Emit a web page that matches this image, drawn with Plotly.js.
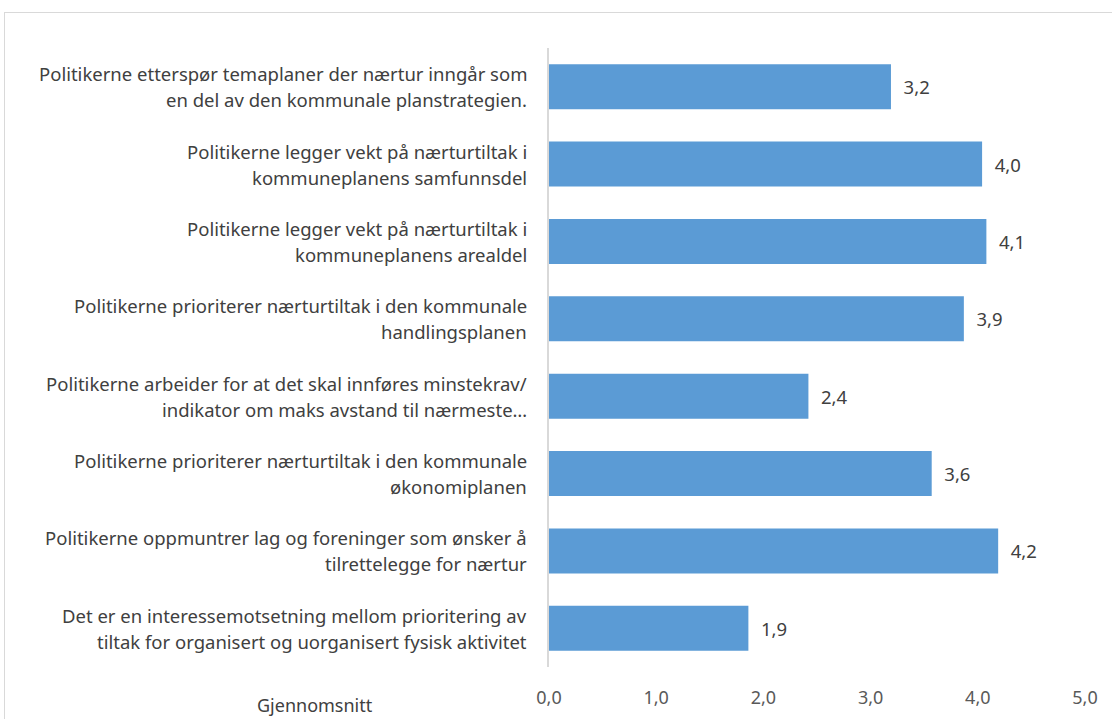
<!DOCTYPE html>
<html>
<head>
<meta charset="utf-8">
<script src="https://cdn.plot.ly/plotly-3.0.1.min.js"></script>
<style>
html,body{margin:0;padding:0;overflow:hidden;background:#fff;}
#chart{width:1112px;height:719px;}
#frame{position:absolute;left:4px;top:12px;width:1200px;height:800px;border:1px solid #d9d9d9;pointer-events:none;}
</style>
</head>
<body>
<div id="chart"></div>
<div id="frame"></div>
<script>
const categoryLine1 = [
  "Politikerne etterspør temaplaner der nærtur inngår som",
  "Politikerne legger vekt på nærturtiltak i",
  "Politikerne legger vekt på nærturtiltak i",
  "Politikerne prioriterer nærturtiltak i den kommunale",
  "Politikerne arbeider for at det skal innføres minstekrav/",
  "Politikerne prioriterer nærturtiltak i den kommunale",
  "Politikerne oppmuntrer lag og foreninger som ønsker å",
  "Det er en interessemotsetning mellom prioritering av"
];
const categoryLine2 = [
  "en del av den kommunale planstrategien.",
  "kommuneplanens samfunnsdel",
  "kommuneplanens arealdel",
  "handlingsplanen",
  "indikator om maks avstand til nærmeste…",
  "økonomiplanen",
  "tilrettelegge for nærtur",
  "tiltak for organisert og uorganisert fysisk aktivitet"
];
const values = [3.19, 4.04, 4.08, 3.87, 2.42, 3.57, 4.19, 1.86];
const xTickValues = [0, 1, 2, 3, 4, 5];
const xTitle = "Gjennomsnitt";

const categories = categoryLine1.map((a, i) => a + " " + categoryLine2[i]);

const labelFont = {family: "Noto Sans, sans-serif", size: 18.5, color: "#404040"};

const annotations = [];
categories.forEach((c, i) => {
  annotations.push({xref: "paper", yref: "y", x: 0, y: c, xanchor: "right", yanchor: "middle",
    xshift: -20, yshift: 13, text: categoryLine1[i], showarrow: false, font: labelFont});
  annotations.push({xref: "paper", yref: "y", x: 0, y: c, xanchor: "right", yanchor: "middle",
    xshift: -20, yshift: -13, text: categoryLine2[i], showarrow: false, font: labelFont});
});
annotations.push({xref: "paper", yref: "paper", x: -0.437, y: 0, xanchor: "center", yanchor: "middle",
  yshift: -38, text: xTitle, showarrow: false,
  font: {family: "Noto Sans, sans-serif", size: 18, color: "#404040"}});

const trace = {
  type: "bar",
  orientation: "h",
  x: values,
  y: categories,
  marker: {color: "#5b9bd5", line: {width: 0}},
  texttemplate: "\u00a0\u00a0%{x:.1f}",
  textposition: "outside",
  cliponaxis: false,
  textfont: {family: "Noto Sans, sans-serif", size: 18.5, color: "#404040"},
  hoverinfo: "skip"
};

const layout = {
  width: 1112, height: 719,
  margin: {l: 549, r: 27, t: 48, b: 52},
  paper_bgcolor: "#ffffff",
  plot_bgcolor: "#ffffff",
  separators: ", ",
  bargap: 0.42,
  showlegend: false,
  xaxis: {
    range: [0, 5],
    tickvals: xTickValues,
    tickformat: ".1f",
    showgrid: false,
    zeroline: false,
    showline: false,
    ticks: "",
    ticklabelstandoff: 18,
    tickfont: {family: "Noto Sans, sans-serif", size: 18, color: "#595959"},
    fixedrange: true
  },
  yaxis: {
    type: "category",
    autorange: "reversed",
    showticklabels: false,
    showgrid: false,
    zeroline: false,
    showline: true,
    linecolor: "#d9d9d9",
    linewidth: 2,
    ticks: "",
    fixedrange: true
  },
  annotations: annotations
};

Plotly.newPlot("chart", [trace], layout, {displayModeBar: false, staticPlot: true});
</script>
</body>
</html>
